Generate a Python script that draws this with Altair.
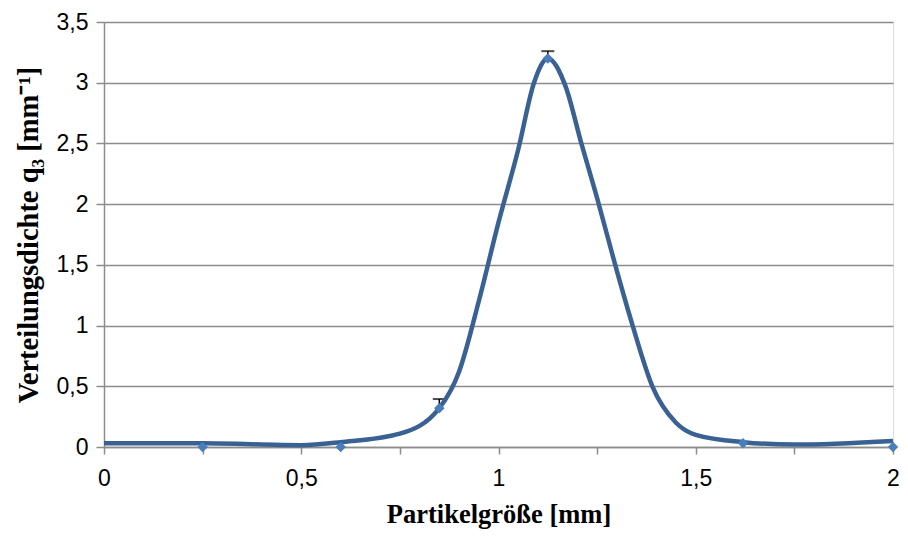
import altair as alt
import pandas as pd

# measured points (diamonds)
pt_x = [0.25, 0.6, 0.85, 1.125, 1.62, 2.0]
pt_y = [0.0, 0.0, 0.32, 3.2, 0.03, 0.0]

# error bars (upper ends)
err_x = [0.85, 1.125]
err_lo = [0.32, 3.2]
err_hi = [0.395, 3.26]

# smoothed curve
line_x = [0, 0.25, 0.5, 0.6, 0.75, 0.85, 0.9, 0.95, 1.0, 1.05, 1.09, 1.125,
          1.17, 1.21, 1.25, 1.3, 1.34, 1.39, 1.45, 1.5, 1.62, 1.75, 2.0]
line_y = [0.03, 0.03, 0.015, 0.04, 0.11, 0.32, 0.62, 1.2, 1.85, 2.45, 3.0, 3.2,
          2.97, 2.5, 2.05, 1.45, 1.0, 0.5, 0.2, 0.1, 0.04, 0.02, 0.05]

x_ticks = [0, 0.25, 0.5, 0.75, 1.0, 1.25, 1.5, 1.75, 2.0]
y_ticks = [0, 0.5, 1, 1.5, 2, 2.5, 3, 3.5]

pts = pd.DataFrame({"x": pt_x, "y": pt_y})
err = pd.DataFrame({"x": err_x, "lo": err_lo, "hi": err_hi})
crv = pd.DataFrame({"x": line_x, "y": line_y})

GRAY = "#8c8c8c"

xscale = alt.Scale(domain=[0, 2], nice=False, zero=False)
yscale = alt.Scale(domain=[0, 3.5], nice=False)

xaxis = alt.Axis(
    values=x_ticks,
    labelExpr="(round(datum.value*2) == datum.value*2) ? replace('' + datum.value, '.', ',') : ''",
    title="Partikelgröße [mm]",
    grid=False,
    domainColor=GRAY, domainWidth=1.5,
    tickColor=GRAY, tickSize=7, tickWidth=1.5,
    labelFont="Liberation Sans", labelFontSize=23, labelColor="#000000", labelPadding=13,
    labelFlush=False,
    titleFont="Liberation Serif", titleFontSize=26.5, titleFontWeight="bold", titleColor="#000000",
    titlePadding=11,
)
yaxis = alt.Axis(
    values=y_ticks,
    labelExpr="replace('' + datum.value, '.', ',')",
    title="Verteilungsdichte q₃ [mm⁻¹]",
    grid=True, gridColor=GRAY, gridWidth=1.5,
    domainColor=GRAY, domainWidth=1.5,
    tickColor=GRAY, tickSize=8, tickWidth=1.5,
    labelFont="Liberation Sans", labelFontSize=23, labelColor="#000000", labelPadding=8,
    labelFlush=False,
    titleFont="Liberation Serif", titleFontSize=28.5, titleFontWeight="bold", titleColor="#000000",
    titlePadding=13,
)

line = alt.Chart(crv).mark_line(interpolate="monotone", color="#3A6194", strokeWidth=4.5).encode(
    x=alt.X("x:Q", scale=xscale, axis=xaxis),
    y=alt.Y("y:Q", scale=yscale, axis=yaxis),
)

points = alt.Chart(pts).mark_point(shape="diamond", filled=True, size=110, color="#4A7EBB", opacity=1).encode(
    x=alt.X("x:Q", scale=xscale),
    y=alt.Y("y:Q", scale=yscale),
)

bars = alt.Chart(err).mark_rule(color="#000000", strokeWidth=1.5).encode(
    x=alt.X("x:Q", scale=xscale),
    y=alt.Y("lo:Q", scale=yscale),
    y2="hi:Q",
)
caps = alt.Chart(err).mark_tick(orient="horizontal", color="#000000", size=13, thickness=2).encode(
    x=alt.X("x:Q", scale=xscale),
    y=alt.Y("hi:Q", scale=yscale),
)

chart = alt.layer(bars, caps, line, points).properties(
    width=789, height=425,
    autosize=alt.AutoSizeParams(type="none"),
    padding={"left": 96, "top": 14, "right": 7, "bottom": 82},
).configure_view(stroke=None).configure(background="white")

chart.save("out.html", embed_options={"renderer": "svg", "actions": False})
